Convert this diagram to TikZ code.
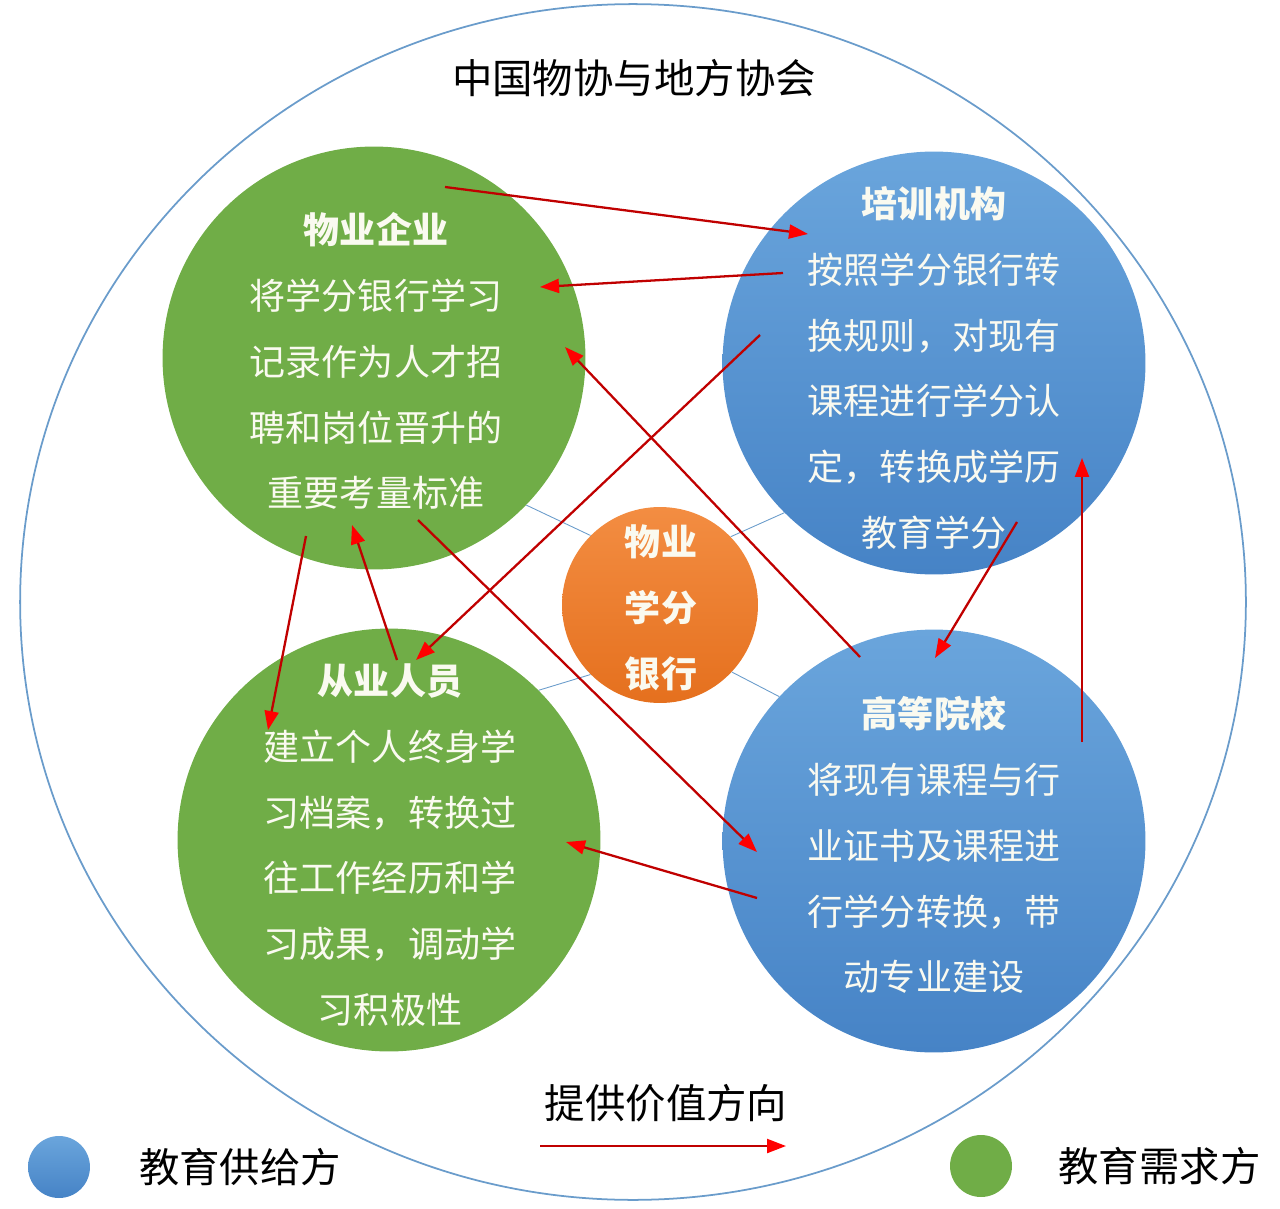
\documentclass[tikz,border=0pt]{standalone}
\usepackage{fontspec}
\setmainfont{Noto Sans CJK SC}
\usetikzlibrary{arrows.meta,positioning}
\definecolor{demandgreen}{HTML}{70AD47}
\definecolor{supplytop}{HTML}{6AA5DC}
\definecolor{supplybottom}{HTML}{4683C6}
\definecolor{banktop}{HTML}{F38D42}
\definecolor{bankbottom}{HTML}{E5701E}
\definecolor{ringblue}{HTML}{6A9CCB}
\definecolor{flowred}{HTML}{C00000}
\definecolor{textcream}{HTML}{FAFAF0}
\newcommand{\bodyfont}{\fontsize{20.5pt}{37.5pt}\selectfont}
\newcommand{\legendfont}{\fontsize{23pt}{28pt}\selectfont}

\begin{document}
\begin{tikzpicture}[
  x=0.02cm,y=-0.02cm,
  party/.style={circle,minimum size=8.46cm,inner sep=0pt},
  demand/.style={party,fill=demandgreen},
  supply/.style={party,top color=supplytop,bottom color=supplybottom},
  bankcirc/.style={circle,minimum size=3.92cm,inner sep=0pt,
                   top color=banktop,bottom color=bankbottom},
  txt/.style={align=center,text=textcream,font=\bodyfont,inner sep=0pt},
  link/.style={draw=ringblue,line width=0.5pt},
  flow/.style={draw=flowred,line width=1.3pt,
               -{Triangle[length=0.38cm,width=0.28cm,color=red]}},
  dot/.style={circle,minimum size=1.24cm,inner sep=0pt}
]
\useasboundingbox (0,0) rectangle (1280,1209);

% outer ring and title
\draw[draw=ringblue,line width=1pt] (633,602) ellipse [x radius=12.26cm,y radius=11.96cm];
\node[font=\legendfont] (title) at (634,78) {中国物协与地方协会};

% parties
\node[demand] (firm)    at (374,358) {};
\node[supply] (trainer) at (934,363) {};
\node[demand] (staff)   at (389,840) {};
\node[supply] (college) at (934,841) {};
\node[bankcirc] (bank)  at (660,605) {};

\draw[link] (bank.135) -- (firm.-44);
\draw[link] (bank.44)  -- (trainer.-135);
\draw[link] (bank.-135) -- (staff.45);
\draw[link] (bank.-43) -- (college.137);

\node[txt] (firmtxt) at (376,361)
  {\textbf{物业企业}\\将学分银行学习\\记录作为人才招\\聘和岗位晋升的\\重要考量标准};
\node[txt] (trainertxt) at (934,368)
  {\textbf{培训机构}\\按照学分银行转\\换规则，对现有\\课程进行学分认\\定，转换成学历\\教育学分};
\node[txt] (stafftxt) at (390,845)
  {\textbf{从业人员}\\建立个人终身学\\习档案，转换过\\往工作经历和学\\习成果，调动学\\习积极性};
\node[txt] (collegetxt) at (934,845)
  {\textbf{高等院校}\\将现有课程与行\\业证书及课程进\\行学分转换，带\\动专业建设};
\node[txt,font=\bodyfont\bfseries,text=textcream] (banktxt) at (661,608)
  {物业\\学分\\银行};

% value flows
\coordinate (f1a) at (445,187);  \coordinate (f1b) at (808,234);
\coordinate (f2a) at (783,273);  \coordinate (f2b) at (540,287);
\coordinate (f3a) at (760,335);  \coordinate (f3b) at (416,660);
\coordinate (f4a) at (860,657);  \coordinate (f4b) at (565,347);
\coordinate (f5a) at (418,520);  \coordinate (f5b) at (757,852);
\coordinate (f6a) at (306,536);  \coordinate (f6b) at (268,730);
\coordinate (f7a) at (397,660);  \coordinate (f7b) at (352,525);
\coordinate (f8a) at (1017,522); \coordinate (f8b) at (935,658);
\coordinate (f9a) at (1082,742); \coordinate (f9b) at (1082,458);
\coordinate (f10a) at (757,898); \coordinate (f10b) at (566,842);
\foreach \i in {1,...,10}
  \draw[flow] (f\i a) -- (f\i b);

% legend
\node[font=\legendfont] (flowlabel) at (666,1103) {提供价值方向};
\coordinate (lega) at (540,1146);
\coordinate (legb) at (786,1146);
\draw[flow] (lega) -- (legb);
\node[dot,top color=supplytop,bottom color=supplybottom] (supplydot) at (59,1167) {};
\node[font=\legendfont,right=0.85cm of supplydot] (supplylabel) {教育供给方};
\node[dot,fill=demandgreen] (demanddot) at (981,1166) {};
\node[font=\legendfont,right=0.8cm of demanddot] (demandlabel) {教育需求方};
\end{tikzpicture}
\end{document}
